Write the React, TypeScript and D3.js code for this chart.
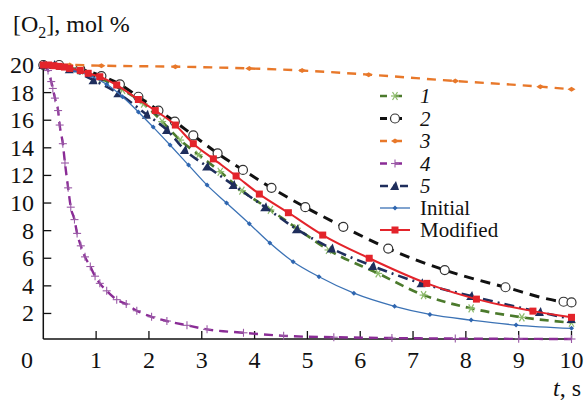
import React from 'react';
import * as d3 from 'd3';

// chart values: [t, s] -> [O2], mol %
const series1 = [[0, 20], [0.3, 19.95], [0.7, 19.6], [1.1, 19.0], [1.5, 18.2], [1.9, 17.2], [2.25, 15.9], [2.59, 14.56], [2.94, 13.5], [3.35, 12.27], [3.76, 10.9], [4.3, 9.5], [4.8, 8.17], [5.4, 6.6], [6.34, 4.9], [7.2, 3.33], [8.1, 2.37], [9.06, 1.72], [10, 1.33]];
const series2 = [[0, 20], [0.3, 20], [0.7, 19.7], [1.1, 19.2], [1.45, 18.6], [1.8, 17.7], [2.18, 16.7], [2.49, 15.9], [2.84, 14.9], [3.3, 13.6], [3.78, 12.4], [4.32, 11.1], [4.96, 9.7], [5.68, 8.28], [6.53, 6.7], [7.6, 5.14], [8.75, 3.9], [9.85, 2.85], [10, 2.8]];
const series3 = [[0, 20], [0.5, 20], [1.1, 19.95], [2.5, 19.88], [3.9, 19.75], [4.9, 19.6], [6.16, 19.3], [7.8, 18.84], [9.41, 18.43], [10, 18.24]];
const series4 = [[0, 20], [0.09, 19.6], [0.15, 18.8], [0.18, 18.3], [0.22, 17.6], [0.28, 16.7], [0.31, 15.65], [0.37, 14.3], [0.41, 12.9], [0.47, 11.1], [0.52, 9.7], [0.59, 8.8], [0.64, 7.8], [0.71, 6.9], [0.79, 6.1], [0.89, 5.4], [0.98, 4.7], [1.07, 4.18], [1.2, 3.64], [1.39, 3.0], [1.57, 2.68], [1.77, 2.2], [2.05, 1.76], [2.34, 1.45], [2.72, 1.14], [3.1, 0.85], [3.79, 0.6], [4.55, 0.38], [5.5, 0.28], [6.6, 0.22], [7.8, 0.18], [9, 0.16], [10, 0.15]];
const series5 = [[0, 20], [0.2, 20], [0.5, 19.7], [0.95, 18.9], [1.42, 17.95], [1.96, 16.4], [2.34, 15.3], [2.68, 13.84], [3.1, 12.65], [3.6, 11.3], [4.2, 9.7], [4.8, 8.1], [5.46, 6.7], [6.24, 5.43], [7.16, 4.18], [8.1, 3.26], [9.4, 2.1], [10, 1.6]];
const initial = [[0, 20], [0.3, 19.9], [0.6, 19.6], [0.9, 19.2], [1.2, 18.6], [1.5, 17.7], [1.8, 16.6], [2.08, 15.5], [2.4, 14.2], [2.75, 12.75], [3.1, 11.3], [3.47, 10.0], [3.9, 8.5], [4.29, 7.1], [4.73, 5.75], [5.22, 4.66], [5.88, 3.47], [6.65, 2.52], [7.32, 1.93], [8.1, 1.52], [8.95, 1.16], [10, 0.92]];
const modified = [[0, 20], [0.1, 20], [0.2, 19.95], [0.3, 19.9], [0.4, 19.85], [0.5, 19.75], [0.7, 19.6], [0.85, 19.4], [1.07, 19.15], [1.39, 18.55], [1.8, 17.5], [2.12, 16.7], [2.5, 15.65], [2.84, 14.3], [3.22, 13.2], [3.65, 11.96], [4.09, 10.65], [4.64, 9.3], [5.29, 7.68], [6.17, 6.0], [7.26, 4.18], [8.2, 3.04], [9.27, 2.17], [10, 1.72]];

const xTicks = [1, 2, 3, 4, 5, 6, 7, 8, 9, 10];
const yTicks = [2, 4, 6, 8, 10, 12, 14, 16, 18, 20];

const W = 586;
const H = 403;

const x = d3.scaleLinear().domain([0, 10]).range([43.3, 571.5]);
const y = d3.scaleLinear().domain([0.15, 20]).range([339, 65]);

const line = d3.line<number[]>()
  .x(d => x(d[0]))
  .y(d => y(d[1]))
  .curve(d3.curveMonotoneX);

const Marker = ({ kind, cx, cy }: { kind: string; cx: number; cy: number }) => {
  switch (kind) {
    case 'star':
      return (
        <g stroke="#8dbb6c" strokeWidth={1.2}>
          <line x1={cx - 4} y1={cy} x2={cx + 4} y2={cy} />
          <line x1={cx - 2.5} y1={cy - 4} x2={cx + 2.5} y2={cy + 4} />
          <line x1={cx - 2.5} y1={cy + 4} x2={cx + 2.5} y2={cy - 4} />
        </g>
      );
    case 'circle':
      return <circle cx={cx} cy={cy} r={4.5} fill="#fff" stroke="#333" strokeWidth={1.2} />;
    case 'diamond':
      return <path d={`M${cx - 4},${cy}L${cx},${cy - 2.5}L${cx + 4},${cy}L${cx},${cy + 2.5}Z`} fill="#e8782a" />;
    case 'plus':
      return (
        <g stroke="#9a5aa6" strokeWidth={1.1}>
          <line x1={cx - 4} y1={cy} x2={cx + 4} y2={cy} />
          <line x1={cx} y1={cy - 4} x2={cx} y2={cy + 4} />
        </g>
      );
    case 'tri':
      return <path d={`M${cx - 5},${cy + 4}L${cx + 1},${cy - 5}L${cx + 4},${cy + 4}Z`} fill="#1f2e5c" />;
    case 'small':
      return <path d={`M${cx - 2.5},${cy}L${cx},${cy - 2.5}L${cx + 2.5},${cy}L${cx},${cy + 2.5}Z`} fill="#2f66b0" />;
    case 'square':
      return <rect x={cx - 3.5} y={cy - 3.5} width={7} height={7} fill="#e3242b" />;
    default:
      return null;
  }
};

const styles = [
  { key: '1', data: series1, color: '#4b7a2c', width: 2.6, dash: '9,6', marker: 'star', italic: true },
  { key: '2', data: series2, color: '#111', width: 3, dash: '10,7', marker: 'circle', italic: true },
  { key: '3', data: series3, color: '#e8782a', width: 2.4, dash: '9,7', marker: 'diamond', italic: true },
  { key: '4', data: series4, color: '#8a2c96', width: 2.4, dash: '9,6', marker: 'plus', italic: true },
  { key: '5', data: series5, color: '#1f2e5c', width: 2.6, dash: '10,5,2,5', marker: 'tri', italic: true },
  { key: 'Initial', data: initial, color: '#3b72b5', width: 1.3, dash: null, marker: 'small', italic: false },
  { key: 'Modified', data: modified, color: '#e3242b', width: 2, dash: null, marker: 'square', italic: false },
];

const T = ({ children, ...rest }: any) => (
  <text fontFamily="Liberation Serif" fill="#111" {...rest}>{children}</text>
);

const App = () => {
  const legendY = [96, 118.5, 141, 163.5, 186, 208, 230];
  return (
    <svg width={W} height={H} style={{ position: 'absolute', left: 0, top: 0, background: '#fff' }}>
      <style>{`text, tspan { font-family: 'Liberation Serif'; }`}</style>
      {/* title */}
      <T x={13} y={32} fontSize={24}>
        [O<tspan fontSize={16} dy={6}>2</tspan><tspan dy={-6}>], mol %</tspan>
      </T>
      <T x={553} y={396} fontSize={24}>
        <tspan fontStyle="italic">t</tspan>, s
      </T>

      {/* axes */}
      <line x1={x(0)} y1={y(20)} x2={x(0)} y2={y.range()[0]} stroke="#111" strokeWidth={1.5} />
      <line x1={x(0)} y1={y.range()[0]} x2={x(10)} y2={y.range()[0]} stroke="#111" strokeWidth={1.5} />
      {yTicks.map(t => (
        <g key={'y' + t}>
          <line x1={x(0)} x2={x(0) + 8} y1={y(t)} y2={y(t)} stroke="#111" strokeWidth={1.3} />
          <T x={34} y={y(t) + 8} fontSize={24} textAnchor="end">{t}</T>
        </g>
      ))}
      {xTicks.map(t => (
        <g key={'x' + t}>
          <line x1={x(t)} x2={x(t)} y1={y.range()[0]} y2={y.range()[0] - 8} stroke="#111" strokeWidth={1.3} />
          <T x={x(t)} y={368} fontSize={24} textAnchor="middle">{t}</T>
        </g>
      ))}
      <T x={27} y={368} fontSize={24} textAnchor="middle">0</T>

      {/* series */}
      {styles.map(s => (
        <g key={s.key}>
          <path d={line(s.data) || ''} fill="none" stroke={s.color} strokeWidth={s.width}
            strokeDasharray={s.dash || undefined} />
          {s.data.map((d, i) => (
            <Marker key={i} kind={s.marker} cx={x(d[0])} cy={y(d[1])} />
          ))}
        </g>
      ))}

      {/* legend */}
      {styles.map((s, i) => (
        <g key={'lg' + s.key}>
          <line x1={380} x2={410} y1={legendY[i]} y2={legendY[i]} stroke={s.color} strokeWidth={s.width}
            strokeDasharray={s.dash ? (s.key === '5' ? '8,5,2,5' : '7,8') : undefined} />
          <Marker kind={s.marker} cx={395} cy={legendY[i]} />
          <T x={420} y={legendY[i] + 7} fontSize={21} fontStyle={s.italic ? 'italic' : 'normal'}>
            {s.key}
          </T>
        </g>
      ))}
    </svg>
  );
};

export default App;
